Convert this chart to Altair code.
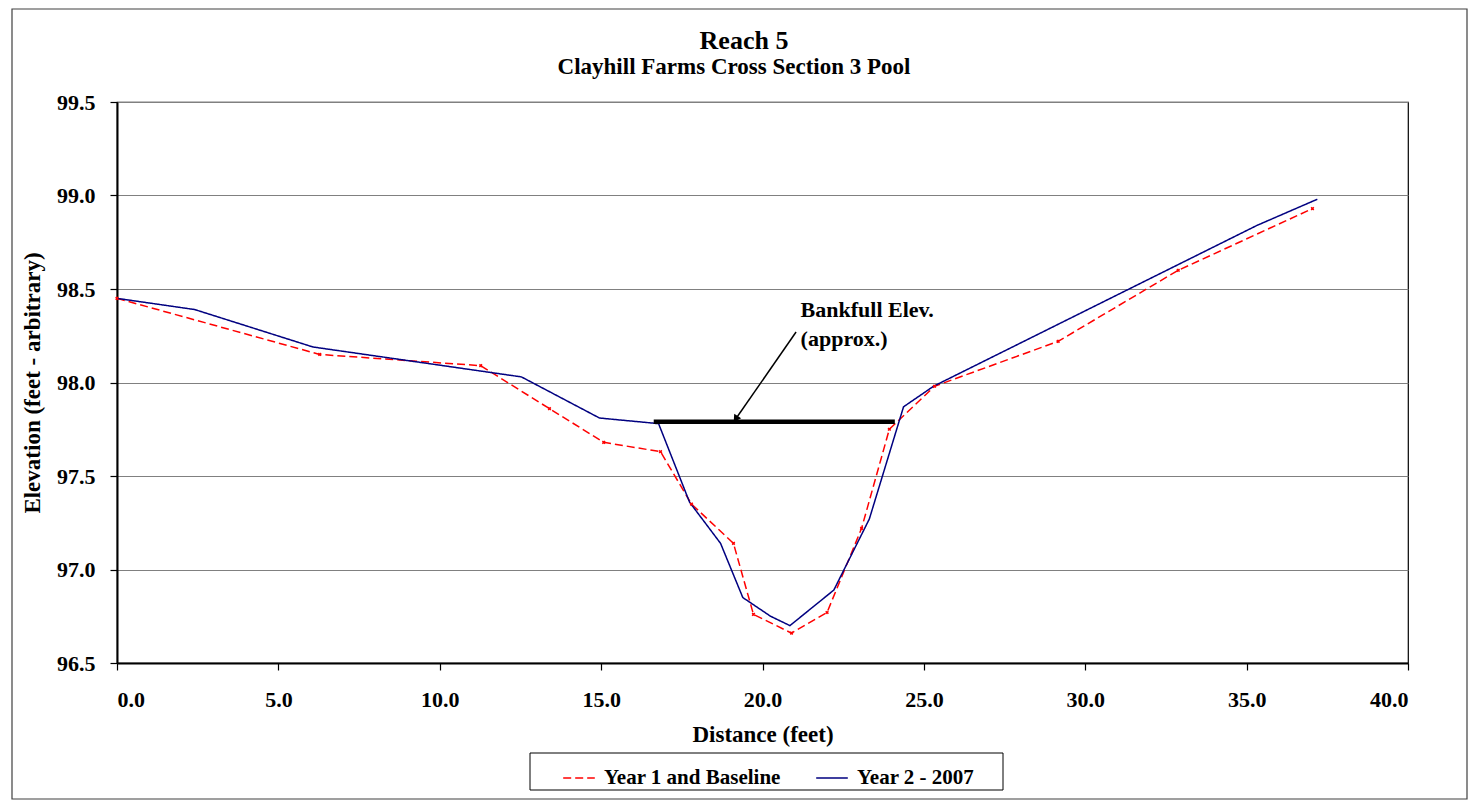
import altair as alt
import pandas as pd

# Series data
red_x = [0.0, 6.28, 11.27, 13.4, 15.08, 16.84, 17.8, 19.1, 19.72, 20.9, 22.0, 23.07, 23.93, 25.33, 29.16, 32.88, 37.04]
red_y = [98.45, 98.15, 98.09, 97.86, 97.68, 97.63, 97.35, 97.14, 96.76, 96.66, 96.77, 97.22, 97.75, 97.98, 98.22, 98.60, 98.93]

blue_x = [0.0, 2.41, 6.07, 12.53, 14.95, 16.78, 17.74, 18.70, 19.39, 20.25, 20.85, 22.21, 23.31, 24.37, 25.3, 35.32, 37.19]
blue_y = [98.45, 98.39, 98.19, 98.03, 97.81, 97.78, 97.36, 97.14, 96.85, 96.75, 96.70, 96.89, 97.27, 97.87, 97.98, 98.84, 98.98]

series_names = ["Year 1 and Baseline", "Year 2 - 2007"]
series_colors = ["#FF0000", "#000080"]

bankfull_x = [16.63, 24.1]
bankfull_y = [97.79, 97.79]

arrow_x = [21.04, 19.19]
arrow_y = [98.27, 97.81]

ann_text = ["Bankfull Elev.", "(approx.)"]
ann_x = [21.18, 21.18]
ann_y = [98.35, 98.195]

title_text = "Reach 5"
subtitle_text = "Clayhill Farms Cross Section 3 Pool"

x_ticks = [0, 5, 10, 15, 20, 25, 30, 35, 40]
y_ticks = [96.5, 97.0, 97.5, 98.0, 98.5, 99.0, 99.5]

FONT = "Liberation Serif"
W, H = 1291, 561

df = pd.concat([
    pd.DataFrame({"x": red_x, "y": red_y, "series": series_names[0], "order": range(len(red_x))}),
    pd.DataFrame({"x": blue_x, "y": blue_y, "series": series_names[1], "order": range(len(blue_x))}),
])

xscale = alt.Scale(domain=[0, 40], nice=False, zero=False)
yscale = alt.Scale(domain=[96.5, 99.5], nice=False, zero=False)

xenc = alt.X("x:Q", scale=xscale,
             axis=alt.Axis(values=x_ticks, format=".1f", title="Distance (feet)", grid=False,
                           labelPadding=19, titlePadding=13))
yenc = alt.Y("y:Q", scale=yscale,
             axis=alt.Axis(values=y_ticks, format=".1f", title="Elevation (feet - arbitrary)",
                           grid=True, gridColor="#808080", gridWidth=1,
                           labelPadding=15, titlePadding=12))

leg = alt.Legend(title=None, orient="none", legendX=445, legendY=659,
                 direction="horizontal", padding=0,
                 labelFont=FONT, labelFontSize=21, labelFontWeight="bold", labelLimit=400,
                 labelColor="black", symbolType="stroke", symbolSize=1000,
                 symbolStrokeWidth=1.5, columnPadding=32, labelOffset=8)

color = alt.Color("series:N", scale=alt.Scale(domain=series_names, range=series_colors), legend=leg)
dash = alt.StrokeDash("series:N", scale=alt.Scale(domain=series_names, range=[[8, 4], [1, 0]]), legend=leg)

lines = alt.Chart(df).mark_line(strokeWidth=1.5).encode(
    x=xenc, y=yenc, color=color, strokeDash=dash, order="order:Q"
)

red_pts = alt.Chart(pd.DataFrame({"x": red_x, "y": red_y})).mark_point(
    shape="cross", filled=True, size=14, angle=45, color="#FF0000", opacity=1
).encode(x=alt.X("x:Q", scale=xscale), y=alt.Y("y:Q", scale=yscale))

bank = alt.Chart(pd.DataFrame({"x": bankfull_x, "y": bankfull_y})).mark_line(
    color="black", strokeWidth=4.5
).encode(x=alt.X("x:Q", scale=xscale), y=alt.Y("y:Q", scale=yscale))

arrow_df = pd.DataFrame({"x": arrow_x, "y": arrow_y, "o": [0, 1]})
arrow_line = alt.Chart(arrow_df).mark_line(color="black", strokeWidth=1.5).encode(
    x=alt.X("x:Q", scale=xscale), y=alt.Y("y:Q", scale=yscale), order="o:Q"
)
arrow_head = alt.Chart(arrow_df.iloc[[1]]).mark_point(
    shape="triangle", filled=True, size=70, angle=214, color="black", opacity=1
).encode(x=alt.X("x:Q", scale=xscale), y=alt.Y("y:Q", scale=yscale))

ann = alt.Chart(pd.DataFrame({"x": ann_x, "y": ann_y, "t": ann_text})).mark_text(
    align="left", baseline="alphabetic", font=FONT, fontSize=22, fontWeight="bold", color="black"
).encode(x=alt.X("x:Q", scale=xscale), y=alt.Y("y:Q", scale=yscale), text="t:N")

frame = alt.Chart(pd.DataFrame({"a": [0]})).mark_rect(
    fillOpacity=0, stroke="#404040", strokeWidth=1.2
).encode(x=alt.value(-105), x2=alt.value(1350), y=alt.value(-93), y2=alt.value(697))

legend_box = alt.Chart(pd.DataFrame({"a": [0]})).mark_rect(
    fillOpacity=0, stroke="black", strokeWidth=1
).encode(x=alt.value(413), x2=alt.value(886), y=alt.value(651), y2=alt.value(688))

title_mark = alt.Chart(pd.DataFrame({"t": [title_text]})).mark_text(
    align="center", baseline="alphabetic", font=FONT, fontSize=26, fontWeight="bold", color="black"
).encode(x=alt.value(627), y=alt.value(-53), text="t:N")

subtitle_mark = alt.Chart(pd.DataFrame({"t": [subtitle_text]})).mark_text(
    align="center", baseline="alphabetic", font=FONT, fontSize=23, fontWeight="bold", color="black"
).encode(x=alt.value(617), y=alt.value(-28), text="t:N")

chart = alt.layer(frame, legend_box, title_mark, subtitle_mark, lines, red_pts, bank,
                  arrow_line, arrow_head, ann).properties(
    width=W, height=H,
    autosize=alt.AutoSizeParams(type="none"),
    padding={"left": 109, "top": 94, "right": 61, "bottom": 138},
    background="white",
).configure_view(
    stroke="black", strokeWidth=1.2
).configure_axis(
    labelFont=FONT, labelFontSize=22, labelFontWeight="bold", labelColor="black",
    titleFont=FONT, titleFontSize=23, titleFontWeight="bold", titleColor="black",
    domainColor="black", domainWidth=2, tickColor="black", tickSize=7, tickWidth=1.2
)

chart.save("out.html", embed_options={"renderer": "svg", "actions": False})
